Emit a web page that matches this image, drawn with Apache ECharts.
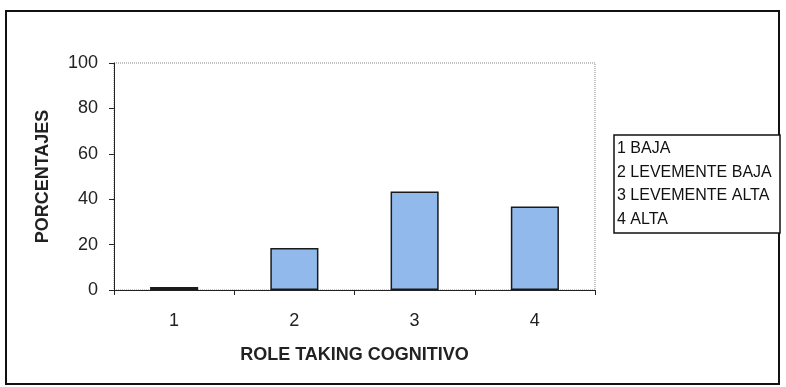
<!DOCTYPE html>
<html>
<head>
<meta charset="utf-8">
<script src="https://cdn.jsdelivr.net/npm/echarts@6/dist/echarts.min.js"></script>
<style>
  html, body { margin: 0; padding: 0; background: #fff; }
  #chart { width: 786px; height: 387px; }
</style>
</head>
<body>
<div id="chart"></div>
<script>
// Categorías del eje X y porcentajes por nivel
const categories = ['1', '2', '3', '4'];
const porcentajes = [1.3, 18.5, 43.4, 36.8];
const yTicks = [0, 20, 40, 60, 80, 100];
const legendLabels = ['1 BAJA', '2 LEVEMENTE BAJA', '3 LEVEMENTE ALTA', '4 ALTA'];

const FONT = 'Arial, "Liberation Sans", sans-serif';

const chart = echarts.init(document.getElementById('chart'), null, { renderer: 'canvas' });

const legendTop = 135, legendLeft = 614, lineH = 23.5;
const legendTexts = legendLabels.map((t, i) => ({
  type: 'text',
  left: legendLeft + 3,
  top: legendTop + 6 + i * lineH,
  style: { text: t, font: '16px ' + FONT, fill: '#111' },
  z: 10
}));

chart.setOption({
  animation: false,
  backgroundColor: '#fff',
  grid: {
    left: 114, top: 63, width: 481, height: 227,
    show: true,
    borderColor: '#888', borderWidth: 1, borderType: 'dotted',
    backgroundColor: 'transparent'
  },
  xAxis: {
    type: 'category',
    data: categories,
    boundaryGap: true,
    name: 'ROLE TAKING COGNITIVO',
    nameLocation: 'middle',
    nameGap: 56,
    nameTextStyle: { fontFamily: FONT, fontWeight: 'bold', fontSize: 18, color: '#222' },
    axisLine: { lineStyle: { color: '#222', width: 1 } },
    axisTick: { show: true, alignWithLabel: false, length: 5, lineStyle: { color: '#222' } },
    axisLabel: { fontFamily: FONT, fontSize: 18, color: '#222', margin: 22 },
    splitLine: { show: false }
  },
  yAxis: {
    type: 'value',
    min: yTicks[0], max: yTicks[yTicks.length - 1], interval: yTicks[1] - yTicks[0],
    name: 'PORCENTAJES',
    nameLocation: 'middle',
    nameGap: 62,
    nameTextStyle: { fontFamily: FONT, fontWeight: 'bold', fontSize: 18, color: '#222' },
    axisLine: { show: true, lineStyle: { color: '#222', width: 1 } },
    axisTick: { show: true, length: 5, lineStyle: { color: '#222' } },
    axisLabel: { fontFamily: FONT, fontSize: 18, color: '#222', margin: 16 },
    splitLine: { show: false }
  },
  series: [{
    type: 'bar',
    data: porcentajes,
    barWidth: '40%',
    itemStyle: { color: '#92b9ec', borderColor: '#1a1a1a', borderWidth: 1.5 }
  }],
  graphic: [
    // marco exterior del gráfico
    {
      type: 'rect',
      shape: { x: 6, y: 11, width: 773, height: 373 },
      style: { fill: 'none', stroke: '#111', lineWidth: 2 },
      silent: true
    },
    // recuadro de la leyenda
    {
      type: 'rect',
      shape: { x: legendLeft, y: legendTop, width: 166, height: 98 },
      style: { fill: '#fff', stroke: '#111', lineWidth: 1.5 },
      z: 9
    }
  ].concat(legendTexts)
});
</script>
</body>
</html>
